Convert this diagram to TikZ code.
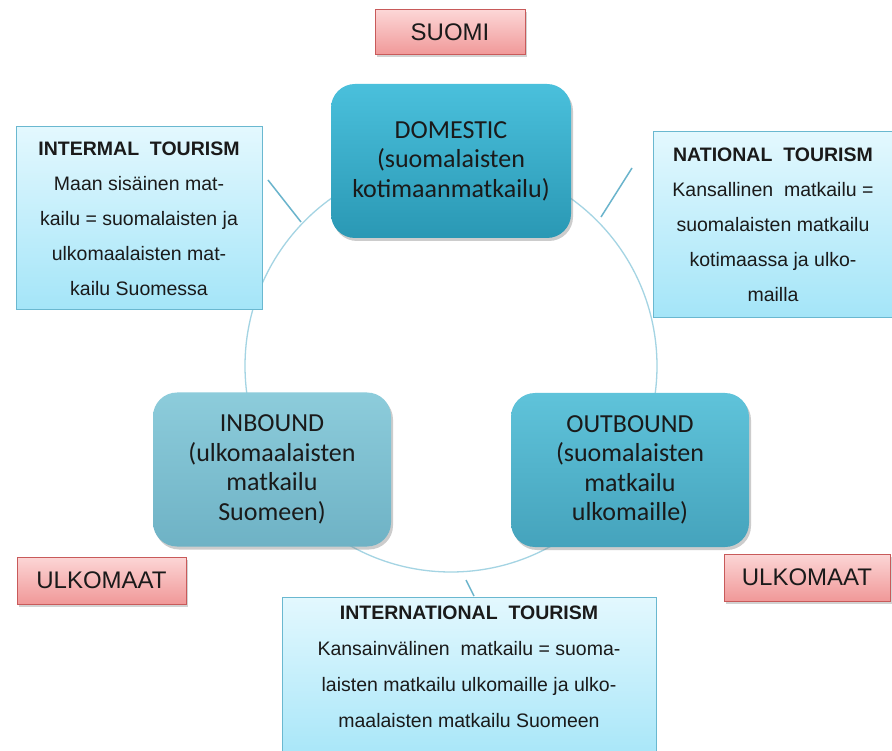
\documentclass[tikz,border=0pt]{standalone}
\usepackage{fontspec}
\setmainfont{Liberation Sans}
\newfontfamily\boxfont{Carlito}
\usetikzlibrary{shadows}
\definecolor{callfill1}{HTML}{E3F8FE}
\definecolor{callfill2}{HTML}{A4E5F8}
\definecolor{calldraw}{HTML}{6AB8D0}
\definecolor{pink1}{HTML}{FCD6D6}
\definecolor{pink2}{HTML}{F09898}
\definecolor{pinkdraw}{HTML}{C85A5A}
\definecolor{circcol}{HTML}{A4D4E3}
\definecolor{tickcol}{HTML}{6AB4CC}
\definecolor{txt}{HTML}{1A1A1A}
\definecolor{domtop}{HTML}{4AC0DC}
\definecolor{dombot}{HTML}{2A98B4}
\definecolor{inbtop}{HTML}{8DCCDB}
\definecolor{inbbot}{HTML}{6EB2C5}
\definecolor{outtop}{HTML}{5FC3DA}
\definecolor{outbot}{HTML}{45A3BC}
\tikzset{
  callout/.style={rectangle, draw=calldraw, line width=1pt, top color=callfill1, bottom color=callfill2,
     inner sep=0pt, text=txt, align=center, font=\fontsize{19.5}{35}\selectfont},
  pinkbox/.style={rectangle, draw=pinkdraw, line width=1pt, top color=pink1, bottom color=pink2,
     inner sep=0pt, text=txt, font=\fontsize{24}{28}\selectfont,
     drop shadow={opacity=0.35, shadow xshift=2pt, shadow yshift=-2.5pt}},
  tealbox/.style={rectangle, rounded corners=24pt, inner sep=0pt, text=txt, align=center,
     minimum width=238pt, minimum height=154pt, font=\boxfont\fontsize{26}{29.5}\selectfont,
     drop shadow={opacity=0.4, shadow xshift=2pt, shadow yshift=-3pt}},
  circ/.style={draw=circcol, line width=1.3pt},
  tick/.style={draw=tickcol, line width=1.5pt},
}
\begin{document}
\begin{tikzpicture}[x=1pt,y=-1pt]
\useasboundingbox (0,0) rectangle (892,751);
\fill[white] (0,0) rectangle (892,751);
% circle
\coordinate (cc) at (451,366);
\draw[circ] (cc) circle[radius=206];
% callout ticks
\coordinate (t1a) at (268,180); \coordinate (t1b) at (301,222);
\coordinate (t2a) at (632,168); \coordinate (t2b) at (601,217);
\coordinate (t3a) at (466,580); \coordinate (t3b) at (474,596);
\draw[tick] (t1a) -- (t1b);
\draw[tick] (t2a) -- (t2b);
\draw[tick] (t3a) -- (t3b);
% teal boxes
\node[tealbox, top color=domtop, bottom color=dombot, minimum width=240pt] (dom) at (451,161)
  {DOMESTIC\\(suomalaisten\\kotimaanmatkailu)};
\node[tealbox, top color=inbtop, bottom color=inbbot] (inb) at (272,469.5)
  {INBOUND\\(ulkomaalaisten\\matkailu\\Suomeen)};
\node[tealbox, top color=outtop, bottom color=outbot] (outb) at (630,470)
  {OUTBOUND\\(suomalaisten\\matkailu\\ulkomaille)};
% pink boxes
\node[pinkbox, minimum width=150pt, minimum height=45pt] (suomi) at (450,32.5) {SUOMI};
\node[pinkbox, minimum width=169pt, minimum height=47pt] (ulk1) at (101.5,580.5) {ULKOMAAT};
\node[pinkbox, minimum width=166pt, minimum height=47pt] (ulk2) at (807,577.5) {ULKOMAAT};
% callouts
\node[callout, minimum width=246pt, minimum height=183pt] (intermal) at (139,218.5)
  {\textbf{INTERMAL\ \ TOURISM}\\Maan sisäinen mat-\\kailu = suomalaisten ja\\ulkomaalaisten mat-\\kailu Suomessa};
\node[callout, minimum width=240pt, minimum height=186pt] (national) at (773,225)
  {\textbf{NATIONAL\ \ TOURISM}\\Kansallinen\ \ matkailu =\\suomalaisten matkailu\\kotimaassa ja ulko-\\mailla};
\node[callout, minimum width=374pt, minimum height=170pt] (intlbox) at (469,682) {};
\node[text=txt, align=center, font=\fontsize{19.5}{36}\selectfont, inner sep=0pt] (intltext) at (469,667)
  {\textbf{INTERNATIONAL\ \ TOURISM}\\Kansainvälinen\ \ matkailu = suoma-\\laisten matkailu ulkomaille ja ulko-\\maalaisten matkailu Suomeen};
\end{tikzpicture}
\end{document}
